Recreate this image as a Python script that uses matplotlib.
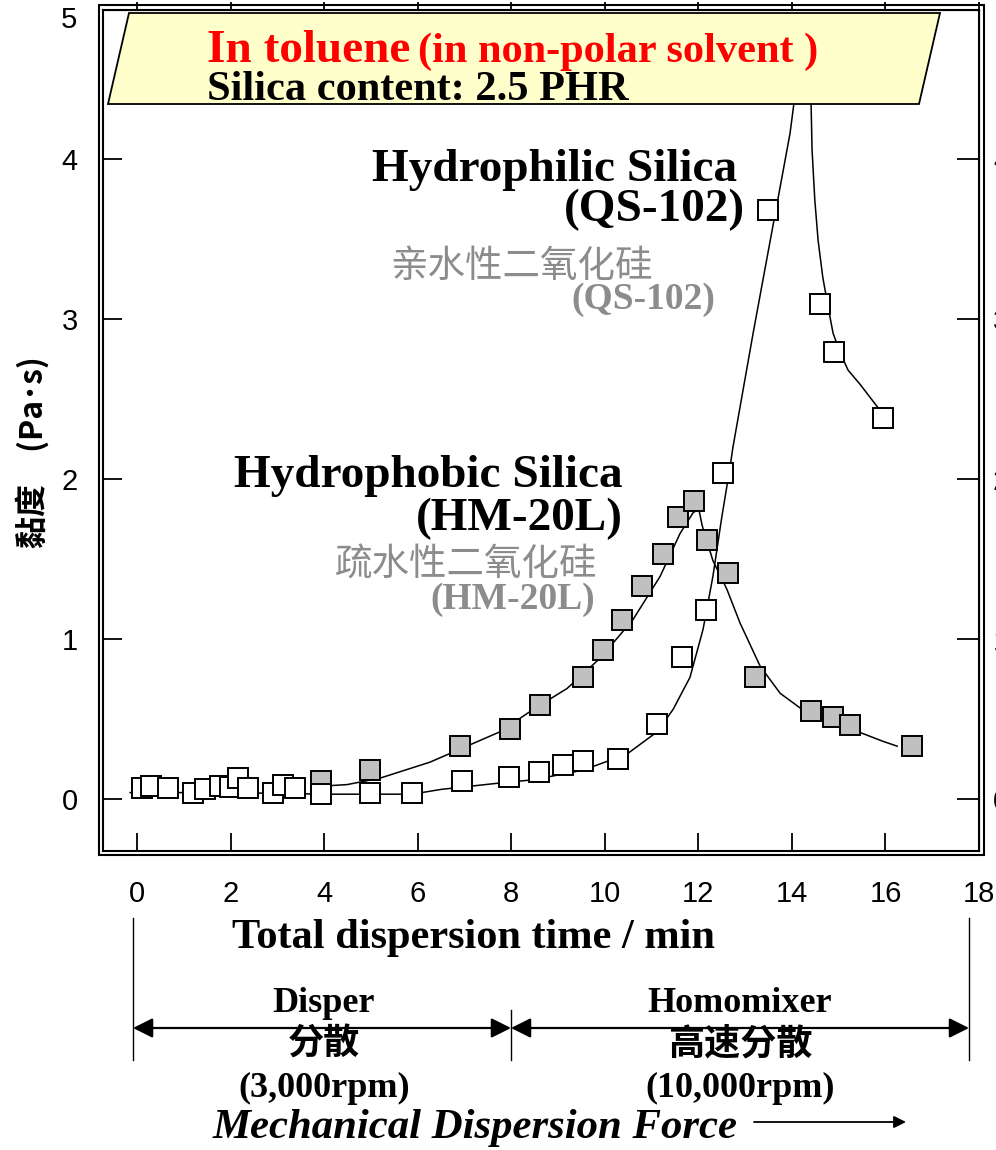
import matplotlib.pyplot as plt
import matplotlib.transforms as mtransforms
from matplotlib.patches import Polygon, Rectangle

# hydrophilic silica QS-102 (open squares)
qs_x = [0.11, 0.30, 0.66, 1.20, 1.45, 1.77, 1.99, 2.16, 2.37, 2.91, 3.12, 3.38, 3.93,
        4.98, 5.88, 6.95, 7.95, 8.59, 9.11, 9.53, 10.28, 11.12, 11.65, 12.16, 12.53,
        13.49, 14.60, 14.90, 15.95]
qs_y = [0.07, 0.08, 0.07, 0.04, 0.06, 0.08, 0.075, 0.13, 0.07, 0.04, 0.09, 0.07, 0.03,
        0.04, 0.04, 0.11, 0.14, 0.17, 0.21, 0.24, 0.25, 0.47, 0.89, 1.18, 2.04,
        3.68, 3.09, 2.79, 2.38]
# hand drawn trend line through QS-102
qs_fit_x = [-0.15, 2.0, 4.0, 5.88, 6.5, 7.76, 8.47, 9.53, 10.47, 11.12, 11.46, 11.82,
            12.10, 12.31, 12.50, 12.68, 12.74, 13.17, 13.53, 13.79, 13.96, 14.04, 14.22,
            14.41, 14.43, 14.49, 14.56, 14.66, 14.77, 14.88, 15.03, 15.20, 15.46, 15.67,
            15.88]
qs_fit_y = [0.04, 0.04, 0.03, 0.03, 0.06, 0.10, 0.12, 0.18, 0.28, 0.42, 0.56, 0.76,
            1.06, 1.39, 1.76, 2.08, 2.20, 2.91, 3.48, 3.89, 4.16, 4.34, 4.8,
            4.34, 4.06, 3.74, 3.49, 3.26, 3.08, 2.91, 2.79, 2.68, 2.59, 2.51,
            2.43]

# hydrophobic silica HM-20L (grey squares)
hm_x = [3.93, 4.98, 6.90, 7.97, 8.61, 9.53, 9.96, 10.37, 10.80, 11.24, 11.56, 11.91,
        12.18, 12.63, 13.21, 14.41, 14.88, 15.24, 16.57]
hm_y = [0.11, 0.18, 0.33, 0.44, 0.59, 0.76, 0.93, 1.12, 1.33, 1.53, 1.76, 1.86,
        1.62, 1.41, 0.76, 0.55, 0.51, 0.46, 0.33]
hm_fit_x = [3.93, 4.49, 5.19, 6.26, 7.76, 8.47, 9.19, 9.90, 10.60, 11.18, 11.61, 11.89,
            12.01, 12.08, 12.31, 12.61, 12.89, 13.32, 13.75, 14.17, 14.41, 14.88, 15.24,
            15.95, 16.25]
hm_fit_y = [0.08, 0.09, 0.13, 0.23, 0.42, 0.56, 0.69, 0.88, 1.12, 1.39, 1.66, 1.79,
            1.81, 1.71, 1.49, 1.31, 1.10, 0.83, 0.66, 0.57, 0.53, 0.49, 0.44,
            0.36, 0.33]

x_ticks = list(range(0, 19, 2))
y_ticks = [0, 1, 2, 3, 4]

SERIF = "Liberation Serif"
CJK = "Noto Sans CJK SC"
NUM = ["Liberation Sans Narrow", "Liberation Sans"]

W, H = 996, 1150
fig = plt.figure(figsize=(W / 100, H / 100), dpi=100)
# pixel coords, origin top-left
px = mtransforms.Affine2D().scale(1 / W, -1 / H).translate(0, 1) + fig.transFigure

ax = fig.add_axes([103 / W, 1 - 851 / H, (979 - 103) / W, (851 - 10) / H])
ax.set_xlim(-0.73, 18.0)
ax.set_ylim(-0.325, 4.93)

ax.plot(qs_fit_x, qs_fit_y, color="black", lw=1.1, zorder=2)
ax.plot(hm_fit_x, hm_fit_y, color="black", lw=1.1, zorder=2)
ax.plot(hm_x, hm_y, "s", ms=14, mfc="#c0c0c0", mec="black", mew=1.4, zorder=3)
ax.plot(qs_x, qs_y, "s", ms=14, mfc="white", mec="black", mew=1.4, zorder=3)

for s in ax.spines.values():
    s.set_linewidth(1.5)
fig.add_artist(Rectangle((99, 5), 885, 850, transform=px, fill=False, lw=1.5, color="black"))

ax.set_xticks(x_ticks)
ax.set_yticks(y_ticks)
ax.tick_params(axis="x", direction="in", length=13, width=1.3, pad=21, labelsize=21)
ax.tick_params(axis="y", direction="in", length=14, width=1.3, pad=18, labelsize=21)
for lab in ax.get_xticklabels() + ax.get_yticklabels():
    lab.set_family(NUM)
fig.text(77, 20, "5", transform=px, ha="right", va="center", fontsize=21, family=NUM)

sec_y = ax.secondary_yaxis("right")
sec_y.set_yticks(y_ticks)
sec_y.tick_params(direction="in", length=16, width=1.3, pad=10, labelsize=21)
for lab in sec_y.get_yticklabels():
    lab.set_family(NUM)
sec_x = ax.secondary_xaxis("top")
sec_x.set_xticks(x_ticks)
sec_x.tick_params(direction="out", length=6, width=1.3, labeltop=False)

# yellow title box
ax.add_patch(Polygon([(129, 13), (940, 13), (919, 104), (108, 104)], closed=True,
                     transform=px, facecolor="#ffffcc", edgecolor="black", lw=1.3,
                     zorder=5, clip_on=False))
fig.text(207, 62, "In toluene", transform=px, color="red", fontsize=34,
         fontweight="bold", family=SERIF, va="baseline", zorder=6)
fig.text(418, 62, "(in non-polar solvent )", transform=px, color="red", fontsize=30.5,
         fontweight="bold", family=SERIF, va="baseline", zorder=6)
fig.text(207, 100, "Silica content: 2.5 PHR", transform=px, color="black", fontsize=30.5,
         fontweight="bold", family=SERIF, va="baseline", zorder=6)

# series labels
ax.text(12.83, 3.86, "Hydrophilic Silica", ha="right", va="baseline", fontsize=34,
        fontweight="bold", family=SERIF)
ax.text(13.0, 3.61, "(QS-102)", ha="right", va="baseline", fontsize=34,
        fontweight="bold", family=SERIF)
ax.text(5.41, 3.33, "亲水性二氧化硅", ha="left", va="center", fontsize=27,
        color="#8c8c8c", family=CJK)
ax.text(12.36, 3.06, "(QS-102)", ha="right", va="baseline", fontsize=27,
        fontweight="bold", color="#8c8c8c", family=SERIF)

ax.text(10.38, 1.95, "Hydrophobic Silica", ha="right", va="baseline", fontsize=34,
        fontweight="bold", family=SERIF)
ax.text(10.38, 1.68, "(HM-20L)", ha="right", va="baseline", fontsize=34,
        fontweight="bold", family=SERIF)
ax.text(4.23, 1.46, "疏水性二氧化硅", ha="left", va="center", fontsize=27,
        color="#8c8c8c", family=CJK)
ax.text(9.78, 1.19, "(HM-20L)", ha="right", va="baseline", fontsize=27,
        fontweight="bold", color="#8c8c8c", family=SERIF)

# axis titles
fig.text(33, 452, "黏度\u3000(Pa･s)", transform=px, rotation=90, ha="center", va="center",
         fontsize=23, fontweight="bold", family=CJK)
fig.text(473, 948, "Total dispersion time / min", transform=px, ha="center",
         va="baseline", fontsize=30.5, fontweight="bold", family=SERIF)

# dispersion stage brackets
for xv, y0 in [(133, 918), (511, 1010), (969, 918)]:
    fig.add_artist(plt.Line2D([xv, xv], [y0, 1060], transform=px, color="black", lw=1))
for x0, x1 in [(133, 511), (511, 969)]:
    ax.annotate("", xy=(x1, 1028), xytext=(x0, 1028), xycoords=px, textcoords=px,
                arrowprops=dict(arrowstyle="<|-|>", color="black", lw=1.6,
                                mutation_scale=30, shrinkA=0, shrinkB=0),
                annotation_clip=False)

for cx, top, mid, bot in [(324, "Disper", "分散", "(3,000rpm)"),
                          (740, "Homomixer", "高速分散", "(10,000rpm)")]:
    fig.text(cx, 1012, top, transform=px, ha="center", va="baseline", fontsize=26,
             fontweight="bold", family=SERIF)
    fig.text(cx, 1044, mid, transform=px, ha="center", va="center", fontsize=26,
             fontweight="bold", family=CJK)
    fig.text(cx, 1097, bot, transform=px, ha="center", va="baseline", fontsize=26,
             fontweight="bold", family=SERIF)

fig.text(213, 1138, "Mechanical Dispersion Force", transform=px, ha="left",
         va="baseline", fontsize=30.8, fontweight="bold", style="italic", family=SERIF)
ax.annotate("", xy=(906, 1122), xytext=(754, 1122), xycoords=px, textcoords=px,
            arrowprops=dict(arrowstyle="-|>", color="black", lw=1.3,
                            mutation_scale=18, shrinkA=0, shrinkB=0),
            annotation_clip=False)

fig.savefig("out.png", dpi=100)
